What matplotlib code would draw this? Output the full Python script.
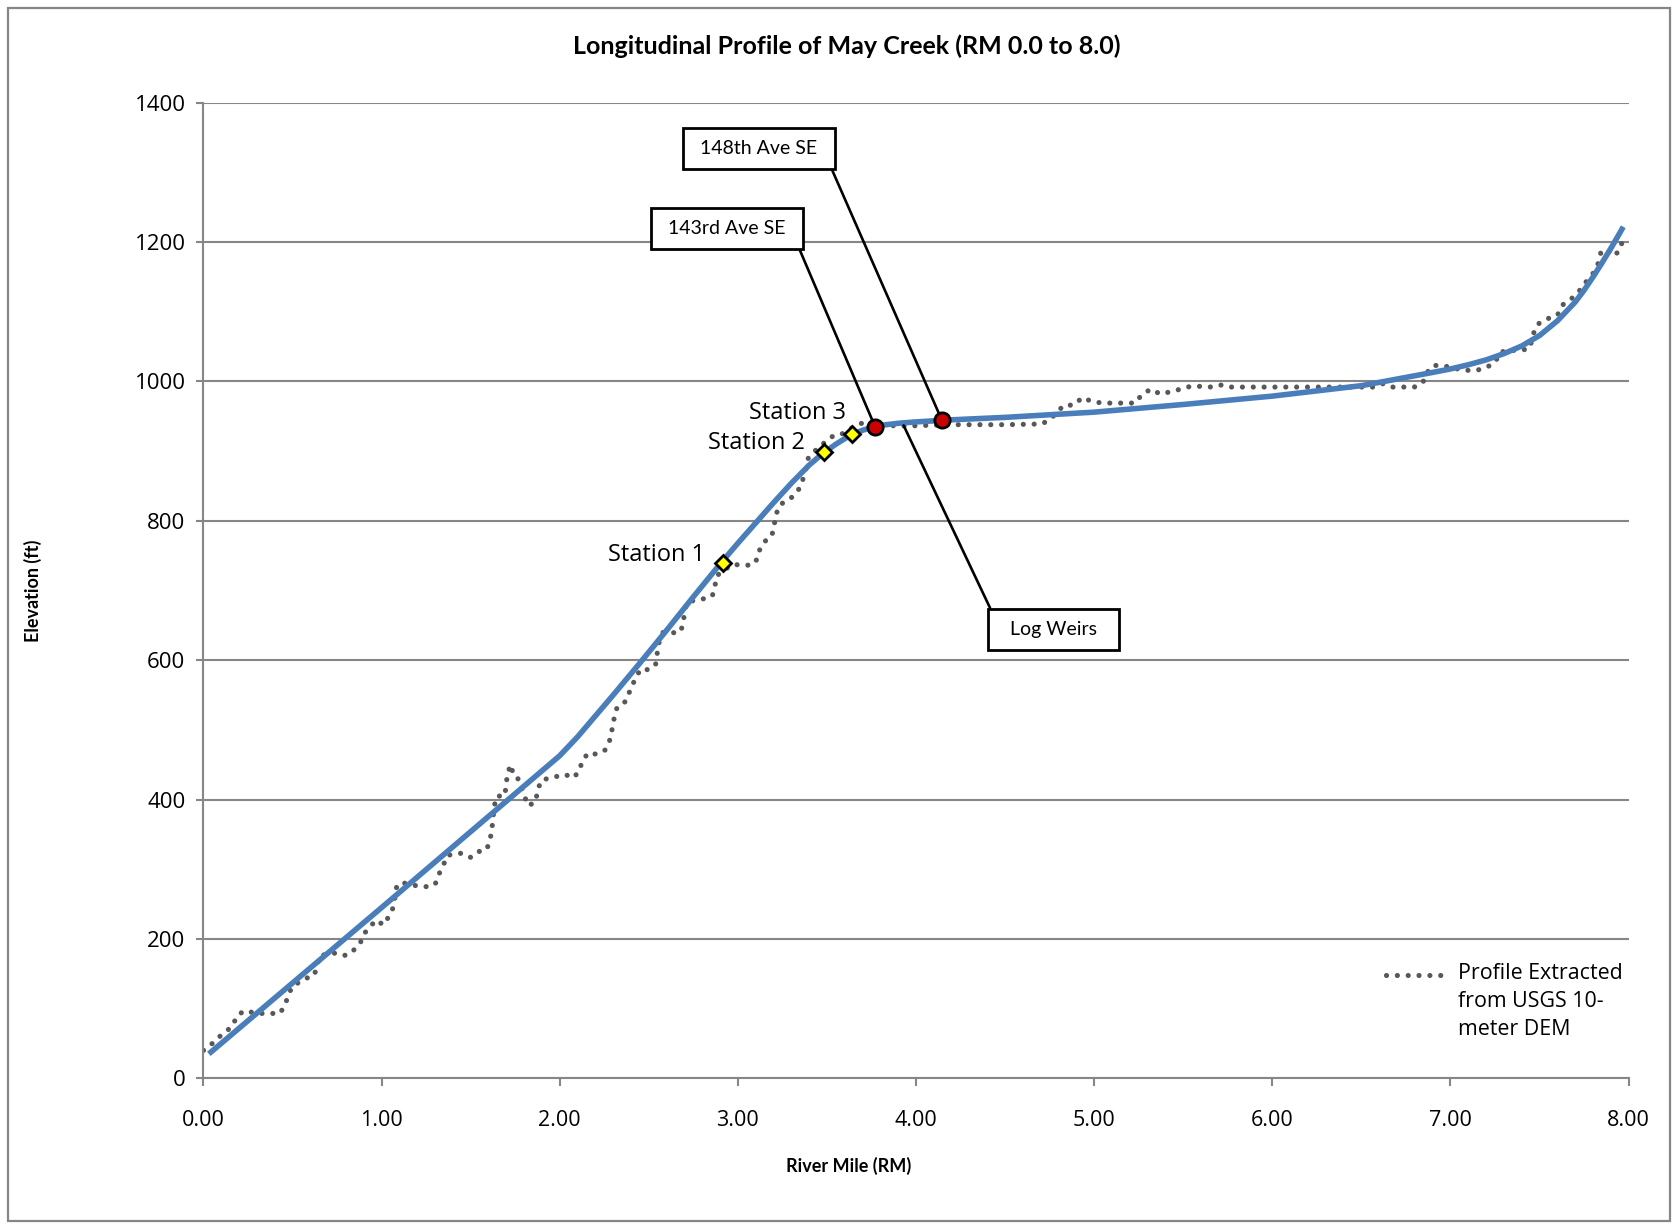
import numpy as np
import matplotlib
matplotlib.use("Agg")
import matplotlib.pyplot as plt
from matplotlib.patches import Rectangle
from matplotlib.legend_handler import HandlerLine2D

# DEM profile (river mile, elevation ft)
dem_rm = [0.00, 0.05, 0.10, 0.16, 0.19, 0.23, 0.30, 0.38, 0.43, 0.46, 0.48, 0.50,
          0.57, 0.62, 0.64, 0.65, 0.75, 0.80, 0.84, 0.88, 0.90, 0.94, 0.97, 1.01,
          1.04, 1.065, 1.085, 1.11, 1.20, 1.25, 1.30, 1.32, 1.345, 1.37, 1.45, 1.50,
          1.54, 1.59, 1.61, 1.62, 1.632, 1.646, 1.69, 1.70, 1.705, 1.726, 1.74, 1.77,
          1.80, 1.823, 1.866, 1.874, 1.898, 1.98, 2.03, 2.076, 2.11, 2.125, 2.16, 2.207,
          2.254, 2.28, 2.293, 2.304, 2.32, 2.35, 2.38, 2.394, 2.407, 2.428, 2.46, 2.50,
          2.54, 2.547, 2.557, 2.58, 2.628, 2.68, 2.693, 2.712, 2.759, 2.805, 2.856, 2.871,
          2.88, 2.965, 3.02, 3.077, 3.108, 3.124, 3.157, 3.19, 3.204, 3.212, 3.236, 3.31,
          3.339, 3.363, 3.382, 3.395, 3.45, 3.535, 3.573, 3.65, 3.713, 3.80, 3.947, 4.06,
          4.22, 4.50, 4.705, 4.75, 4.83, 4.886, 4.933, 4.99, 5.05, 5.23, 5.27, 5.32,
          5.37, 5.425, 5.485, 5.54, 5.60, 5.66, 5.715, 5.77, 6.38, 6.57, 6.623, 6.675,
          6.797, 6.844, 6.866, 6.90, 6.945, 6.99, 7.04, 7.09, 7.147, 7.20, 7.25, 7.278,
          7.334, 7.39, 7.446, 7.46, 7.48, 7.50, 7.554, 7.60, 7.63, 7.68, 7.72, 7.77,
          7.80, 7.83, 7.843, 7.877, 7.913, 7.947, 7.966, 7.98]
dem_elev = [40, 50, 62, 74, 90, 97, 93, 93, 93, 107, 122, 132,
            143, 147, 162, 176, 180, 176, 183, 194, 207, 219, 227, 220,
            232, 245, 276, 281, 276, 275, 278, 292, 305, 320, 323, 317,
            325, 328, 344, 360, 390, 405, 405, 421, 437, 450, 434, 429,
            406, 391, 397, 413, 428, 433, 436, 431, 441, 455, 467, 465,
            471, 485, 500, 515, 531, 535, 545, 557, 563, 577, 588, 586,
            595, 610, 625, 640, 639, 641, 656, 683, 686, 688, 692, 706,
            721, 737, 737, 736, 745, 760, 772, 778, 794, 808, 823, 835,
            844, 858, 875, 890, 905, 922, 923, 935, 942, 937, 936, 937,
            938, 938, 939, 945, 966, 966, 977, 971, 969, 969, 982, 989,
            982, 985, 989, 993, 993, 992, 995, 992, 992, 992, 997, 992,
            992, 998, 1012, 1023, 1023, 1021, 1018, 1016, 1016, 1020, 1027, 1042,
            1045, 1044, 1048, 1064, 1079, 1084, 1091, 1095, 1110, 1119, 1129, 1146,
            1155, 1170, 1184, 1190, 1180, 1187, 1202, 1210]

# smoothed channel profile
fit_rm = [0.03, 1.0, 2.0, 2.1, 2.2, 2.3, 2.45, 2.6, 2.75, 2.9, 3.0, 3.1, 3.2, 3.3,
          3.4, 3.45, 3.5, 3.55, 3.6, 3.65, 3.7, 3.75, 3.8, 3.9, 4.0, 4.2, 4.5, 5.0,
          5.5, 6.0, 6.5, 6.9, 7.0, 7.1, 7.2, 7.3, 7.4, 7.5, 7.6, 7.7, 7.75, 7.8,
          7.85, 7.9, 7.95, 7.97]
fit_elev = [35, 245, 463, 490, 520, 550, 596, 643, 691, 738, 768, 797, 826, 854,
            880, 891, 901, 910, 918, 925, 930, 934, 937, 940, 942, 945, 948.5, 956,
            967, 979, 994, 1013, 1018, 1024, 1031, 1040, 1051, 1066, 1087, 1114, 1131, 1150,
            1170, 1191, 1213, 1222]

stations = ["Station 1", "Station 2", "Station 3"]
station_rm = [2.918, 3.485, 3.642]
station_elev = [740, 899, 925]

crossings = ["143rd Ave SE", "148th Ave SE"]
crossing_rm = [3.77, 4.144]
crossing_elev = [935, 945]

weir_rm = 3.93
weir_elev = 937


class FirstLineHandler(HandlerLine2D):
    # put the legend sample beside the first line of a wrapped label
    def adjust_drawing_area(self, legend, orig_handle, xdescent, ydescent,
                            width, height, fontsize):
        xd, yd, w, h = super().adjust_drawing_area(legend, orig_handle, xdescent,
                                                   ydescent, width, height, fontsize)
        return xd, yd - 2.55 * fontsize, w, h


plt.rcParams["font.family"] = ["Open Sans", "DejaVu Sans"]

fig = plt.figure(figsize=(16.79, 12.25), dpi=100)
fig.patches.append(Rectangle((8 / 1679, 1 - 1221 / 1225), 1662 / 1679, 1213 / 1225,
                             transform=fig.transFigure, fill=False,
                             edgecolor="#868686", linewidth=1.6))

ax = fig.add_axes([0.1212, 0.1198, 0.8488, 0.7963])
grid_c = "#868686"
ax.set_xlim(0, 8)
ax.set_ylim(0, 1400)
ax.set_xticks(np.arange(0, 8.01, 1))
ax.set_xticklabels([f"{v:.2f}" for v in np.arange(0, 8.01, 1)])
ax.set_yticks(np.arange(0, 1401, 200))
ax.yaxis.grid(True, color=grid_c, linewidth=1.5)
ax.set_axisbelow(True)
for s in ["top", "right"]:
    ax.spines[s].set_visible(False)
for s in ["left", "bottom"]:
    ax.spines[s].set_color(grid_c)
    ax.spines[s].set_linewidth(1.5)
ax.tick_params(axis="x", length=6, width=1.5, color=grid_c, pad=17, labelsize=15.5)
ax.tick_params(axis="y", length=5, width=1.5, color=grid_c, pad=8, labelsize=16)

dem_line, = ax.plot(dem_rm, dem_elev, color="#585858", linewidth=3.7,
                    linestyle=(0, (0.01, 2.1)), dash_capstyle="round", zorder=2,
                    label="Profile Extracted\nfrom USGS 10-\nmeter DEM")
ax.plot(fit_rm, fit_elev, color="#4a7ebb", linewidth=4.0, solid_capstyle="butt",
        solid_joinstyle="round", zorder=3)

ax.plot(station_rm, station_elev, linestyle="none", marker="D", markersize=8,
        markerfacecolor="#ffff00", markeredgecolor="black", markeredgewidth=2, zorder=6)
label_offsets = [(-18, 8), (-19, 9), (-6, 21)]
for name, x, y, off in zip(stations, station_rm, station_elev, label_offsets):
    ax.annotate(name, (x, y), xytext=off, textcoords="offset pixels",
                ha="right", va="center", fontsize=17, zorder=6)

ax.plot(crossing_rm, crossing_elev, linestyle="none", marker="o", markersize=11,
        markerfacecolor="#cc0000", markeredgecolor="black", markeredgewidth=2, zorder=6)

box = dict(boxstyle="square,pad=0.62", facecolor="white", edgecolor="black",
           linewidth=2)
callout_text = [(2.939, 1219, (1, 0.5)), (3.118, 1335, (1, 0.5))]
for name, x, y, (tx, ty, rel) in zip(crossings, crossing_rm, crossing_elev, callout_text):
    ax.annotate(" " + name + " ", (x, y), xytext=(tx, ty), ha="center", va="center",
                fontsize=14, family=["Lato", "DejaVu Sans"], bbox=box, zorder=5,
                arrowprops=dict(arrowstyle="-", color="black", linewidth=1.9,
                                shrinkA=0, shrinkB=0, relpos=rel))
ax.annotate("  Log Weirs  ", (weir_rm, weir_elev), xytext=(4.773, 644),
            ha="center", va="center", fontsize=14, family=["Lato", "DejaVu Sans"],
            bbox=box, zorder=5,
            arrowprops=dict(arrowstyle="-", color="black", linewidth=1.9,
                            shrinkA=0, shrinkB=0, relpos=(0, 0.5)))

leg = ax.legend(loc="upper left", bbox_to_anchor=(0.816, 0.138), frameon=False,
                fontsize=15.4, handlelength=2.8, handletextpad=0.6,
                handler_map={dem_line: FirstLineHandler()})
for t in leg.get_texts():
    t.set_linespacing(1.45)

fig.text(0.5045, 0.9625, "Longitudinal Profile of May Creek (RM 0.0 to 8.0)",
         ha="center", va="center", fontsize=18, fontweight="bold",
         family=["Lato", "DejaVu Sans"])
fig.text(0.5054, 1 - 1166 / 1225, "River Mile (RM)", ha="center", va="center",
         fontsize=13, fontweight="bold", family=["Lato", "DejaVu Sans"])
fig.text(33 / 1679, 1 - 591 / 1225, "Elevation (ft)", ha="center", va="center",
         rotation=90, fontsize=13, fontweight="bold", family=["Lato", "DejaVu Sans"])

fig.savefig("out.png", dpi=100)
